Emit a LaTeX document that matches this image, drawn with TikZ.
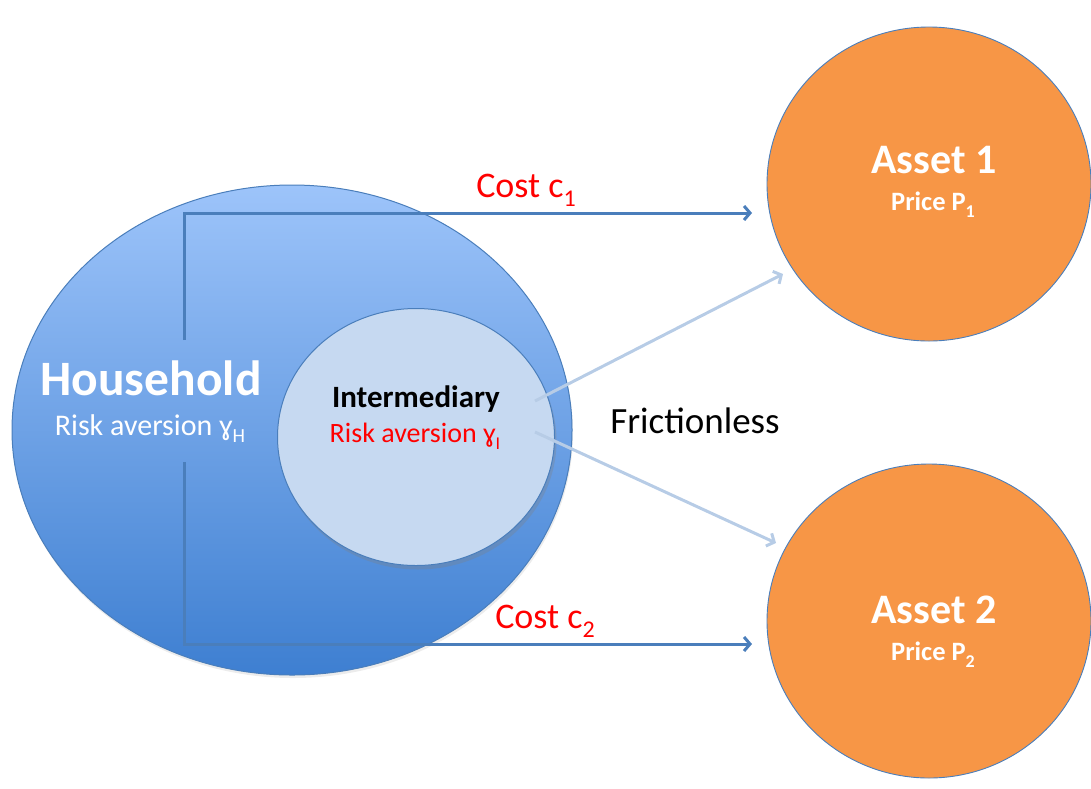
\documentclass[tikz,border=0pt]{standalone}
\usepackage{fontspec}
\setmainfont{Carlito}
\usetikzlibrary{arrows.meta,shadows,shapes.geometric}
\definecolor{hhtop}{HTML}{9DC4FA}
\definecolor{hhbot}{HTML}{3E7FD1}
\definecolor{edgeblue}{HTML}{4A7EBB}
\definecolor{interfill}{HTML}{C6D9F1}
\definecolor{assetor}{HTML}{F79646}
\definecolor{lightarr}{HTML}{B7CCE6}
\definecolor{costred}{HTML}{FF0000}
\newcommand{\lowsub}[3]{\raisebox{-#1pt}{\fontsize{#2}{#2}\selectfont #3}}
\begin{document}
\begin{tikzpicture}[x=1pt,y=-1pt,
  hhshape/.style={ellipse, draw=edgeblue, line width=1pt, top color=hhtop, bottom color=hhbot,
    minimum width=560pt, minimum height=490pt, inner sep=0pt,
    drop shadow={opacity=0.15, shadow xshift=1pt, shadow yshift=-3pt}},
  intshape/.style={ellipse, draw=edgeblue, line width=1pt, fill=interfill,
    minimum width=277pt, minimum height=257pt, inner sep=0pt,
    drop shadow={opacity=0.3, shadow xshift=2pt, shadow yshift=-4pt}},
  assetshape/.style={ellipse, draw=edgeblue, line width=0.9pt, fill=assetor,
    minimum width=324pt, minimum height=314pt, inner sep=0pt},
  lbl/.style={anchor=base, inner sep=0pt},
  costline/.style={draw=edgeblue, line width=3pt, -{Straight Barb[length=6pt,width=14pt]}},
  lightline/.style={draw=lightarr, line width=3pt, -{Straight Barb[length=6pt,width=14pt]}},
]
\useasboundingbox (0,0) rectangle (1091,788);
% shapes
\node[hhshape] (house) at (292,430) {};
\node[intshape] (inter) at (416,437) {};
\node[assetshape] (asset1) at (929,184) {};
\node[assetshape] (asset2) at (929,621) {};
% connectors
\coordinate (b1) at (184,340);
\coordinate (e1) at (752,213);
\coordinate (b2) at (184,462);
\coordinate (e2) at (752,644);
\draw[costline] (b1) |- (e1);
\draw[costline] (b2) |- (e2);
\coordinate (l1s) at (535,401);
\coordinate (l1e) at (783,274);
\coordinate (l2s) at (535,432);
\coordinate (l2e) at (776,543);
\draw[lightline] (l1s) -- (l1e);
\draw[lightline] (l2s) -- (l2e);
% labels
\node[lbl, text=white, font=\bfseries\fontsize{49.5}{52}\selectfont] (hhname) at (151,395) {Household};
\node[lbl, text=white, font=\fontsize{30}{32}\selectfont] (hhrisk) at (150,435) {Risk aversion ɣ\lowsub{7}{20}{H}};
\node[lbl, text=black, font=\bfseries\fontsize{31}{33}\selectfont] (intname) at (416,407) {Intermediary};
\node[lbl, text=costred, font=\fontsize{28}{30}\selectfont] (intrisk) at (415,442) {Risk aversion ɣ\lowsub{7}{18}{I}};
\node[lbl, text=black, font=\fontsize{37}{40}\selectfont] (fric) at (695,433) {Frictionless};
\node[lbl, text=costred, font=\fontsize{36}{38}\selectfont] (cost1) at (526,197) {Cost c\lowsub{9}{24}{1}};
\node[lbl, text=costred, font=\fontsize{36}{38}\selectfont] (cost2) at (545,628) {Cost c\lowsub{9}{24}{2}};
\node[lbl, text=white, font=\bfseries\fontsize{42}{45}\selectfont] (a1name) at (934,173) {Asset 1};
\node[lbl, text=white, font=\bfseries\fontsize{26.5}{28}\selectfont] (a1price) at (933,210) {Price P\lowsub{7}{18}{1}};
\node[lbl, text=white, font=\bfseries\fontsize{42}{45}\selectfont] (a2name) at (934,623) {Asset 2};
\node[lbl, text=white, font=\bfseries\fontsize{26.5}{28}\selectfont] (a2price) at (933,660) {Price P\lowsub{7}{18}{2}};
\end{tikzpicture}
\end{document}
